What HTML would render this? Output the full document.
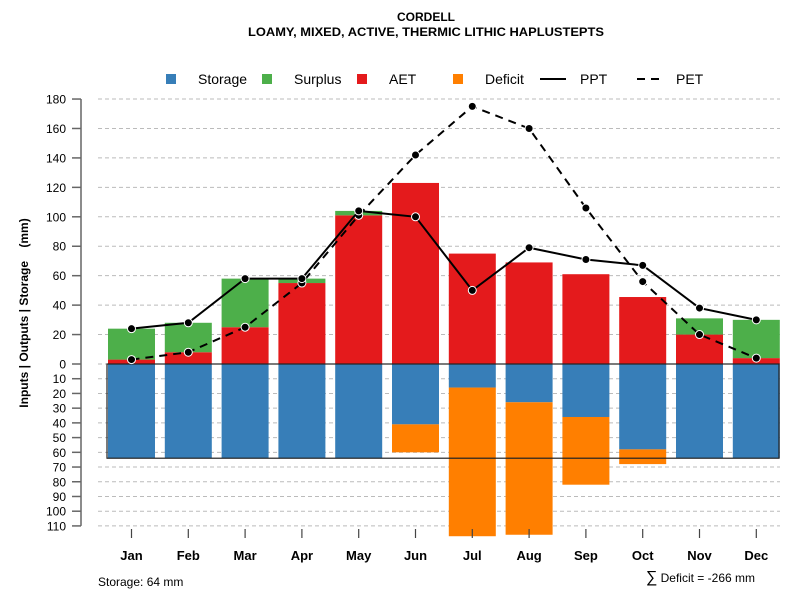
<!DOCTYPE html>
<html><head><meta charset="utf-8"><style>
body{margin:0;background:#fff}
svg{display:block;font-family:"Liberation Sans",sans-serif}
</style></head><body>
<svg id="chart" width="800" height="600" viewBox="0 0 800 600">
<text x="426" y="21" text-anchor="middle" font-size="12" font-weight="bold" textLength="58">CORDELL</text>
<text x="426" y="36" text-anchor="middle" font-size="12" font-weight="bold" textLength="356" lengthAdjust="spacingAndGlyphs">LOAMY, MIXED, ACTIVE, THERMIC LITHIC HAPLUSTEPTS</text>
<g id="legend" font-size="14">
<g><rect x="166" y="74" width="10" height="10" fill="#377eb8"/><text x="198" y="84">Storage</text></g>
<g><rect x="262" y="74" width="10" height="10" fill="#4daf4a"/><text x="294" y="84">Surplus</text></g>
<g><rect x="357" y="74" width="10" height="10" fill="#e41a1c"/><text x="389" y="84">AET</text></g>
<g><rect x="453" y="74" width="10" height="10" fill="#ff7f00"/><text x="485" y="84">Deficit</text></g>
<g><line x1="540" y1="79" x2="566" y2="79" stroke="#000" stroke-width="2"/><text x="580" y="84">PPT</text></g>
<g><line x1="637" y1="79" x2="663" y2="79" stroke="#000" stroke-width="2" stroke-dasharray="8,6"/><text x="676" y="84">PET</text></g>
</g>
<g id="grid"></g><g id="bars"></g><g id="lines"></g><g id="axes"></g>
<text x="98" y="586" font-size="12">Storage: 64 mm</text>
<text x="755" y="582" text-anchor="end" font-size="12"><tspan font-size="16">∑</tspan> Deficit = -266 mm</text>
<text transform="translate(28,313) rotate(-90)" text-anchor="middle" font-size="12" font-weight="bold" xml:space="preserve">Inputs | Outputs | Storage    (mm)</text>
</svg>
<script>
const months=["Jan","Feb","Mar","Apr","May","Jun","Jul","Aug","Sep","Oct","Nov","Dec"];
const aet=[3,8,25,55,101,123,75,69,61,45.5,20,4];
const surplus=[21,20,33,3,3,0,0,0,0,0,11,26];
const storage=[64,64,64,64,64,41,16,26,36,58,64,64];
const deficit=[0,0,0,0,0,19,101,90,46,10,0,0];
const ppt=[24,28,58,58,104,100,50,79,71,67,38,30];
const pet=[3,8,25,55,101,142,175,160,106,56,20,4];
const posTicks=[0,20,40,60,80,100,120,140,160,180];
const negTicks=[10,20,30,40,50,60,70,80,90,100,110];
const storageCap=64;

const NS="http://www.w3.org/2000/svg";
const y0=364,k=1.472;
const yUp=v=>y0-v*k, yDn=v=>y0+v*k;
const xC=i=>131.5+i*56.8, bw=47;
function mk(tag,attrs,parent){const e=document.createElementNS(NS,tag);for(const a in attrs)e.setAttribute(a,attrs[a]);parent.appendChild(e);return e;}
const grid=document.getElementById('grid'),bars=document.getElementById('bars'),lines=document.getElementById('lines'),axes=document.getElementById('axes');
function gl(y){const l=mk('line',{x1:98,x2:780,y1:y,y2:y,stroke:'#bbb','stroke-dasharray':'4,3'},grid);

}
posTicks.forEach(t=>gl(yUp(t)));negTicks.forEach(t=>gl(yDn(t)));
months.forEach((m,i)=>{
 const x=xC(i)-bw/2;
 let r=mk('rect',{x:x,y:yUp(aet[i]),width:bw,height:aet[i]*k,fill:'#e41a1c'},bars);
 
 
 r=mk('rect',{x:x,y:yUp(aet[i]+surplus[i]),width:bw,height:surplus[i]*k,fill:'#4daf4a'},bars);
 
 
 r=mk('rect',{x:x,y:y0,width:bw,height:storage[i]*k,fill:'#377eb8'},bars);
 
 
 r=mk('rect',{x:x,y:yDn(storage[i]),width:bw,height:deficit[i]*k,fill:'#ff7f00'},bars);
 
 
});
const box=mk('rect',{x:107,y:y0,width:672,height:storageCap*k,fill:'none',stroke:'#222','stroke-width':1.2},bars);


function series(vals,dash,name){
 const p=mk('polyline',{points:vals.map((v,i)=>xC(i)+','+yUp(v)).join(' '),fill:'none',stroke:'#000','stroke-width':2,'stroke-dasharray':dash},lines);
 
 
 vals.forEach((v,i)=>{const c=mk('circle',{cx:xC(i),cy:yUp(v),r:4,fill:'#000',stroke:'#fff','stroke-width':1},lines);
 
 });
}
series(pet,'8,6','pet');series(ppt,'none','ppt');
let ax=mk('line',{x1:81,x2:81,y1:yUp(180),y2:yDn(110),stroke:'#666','stroke-width':1.5},axes);


function ytick(y,lab){mk('line',{x1:72,x2:81,y1:y,y2:y,stroke:'#666','stroke-width':1.5},axes);
 const t=mk('text',{x:66,y:y+4.5,'text-anchor':'end','font-size':12},axes);t.textContent=lab;
 
 }
posTicks.forEach(v=>ytick(yUp(v),v));negTicks.forEach(v=>ytick(yDn(v),v));
months.forEach((m,i)=>{mk('line',{x1:xC(i),x2:xC(i),y1:529,y2:538,stroke:'#444','stroke-width':1.2},axes);
 const t=mk('text',{x:xC(i),y:560,'text-anchor':'middle','font-size':13,'font-weight':'bold'},axes);t.textContent=m;
 
 });
</script>
</body></html>
